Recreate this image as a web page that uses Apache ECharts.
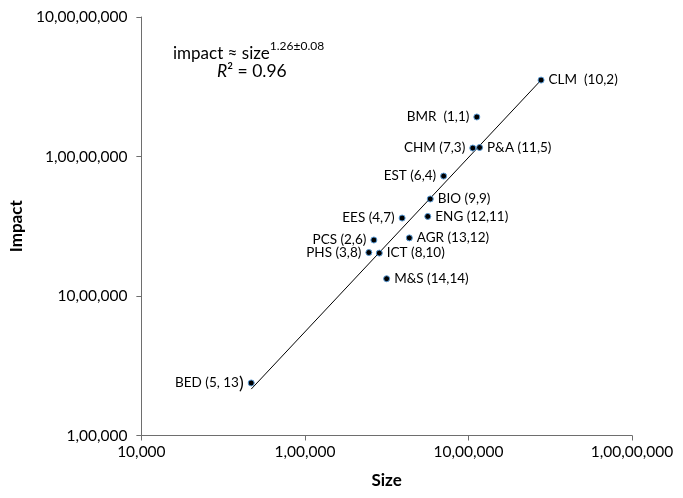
<!DOCTYPE html>
<html>
<head>
<meta charset="utf-8">
<script src="https://cdn.jsdelivr.net/npm/echarts@6/dist/echarts.min.js"></script>
<style>html,body{margin:0;padding:0;background:#fff}#c{width:683px;height:498px}</style>
</head>
<body>
<div id="c"></div>
<script>
const names  = ['BMR','CLM','CHM','P&A','EST','BIO','EES','ENG','PCS','AGR','PHS','ICT','M&S','BED'];
const ranks  = ['(1,1)','(10,2)','(7,3)','(11,5)','(6,4)','(9,9)','(4,7)','(12,11)','(2,6)','(13,12)','(3,8)','(8,10)','(14,14)','(5, 13)'];
const sizes  = [1125000, 2780000, 1063000, 1170000, 705000, 584000, 393000, 564000, 264000, 435000, 246000, 285000, 316000, 46950];
const impacts = [19200000, 35300000, 11500000, 11600000, 7240000, 4960000, 3620000, 3720000, 2520000, 2610000, 2050000, 2030000, 1330000, 238000];
const trendSize = [46950, 2780000];
const trendImpact = [215000, 35300000];
const xTickLabels = ['10,000','1,00,000','10,00,000','1,00,00,000'];
const yTickLabels = ['1,00,000','10,00,000','1,00,00,000','10,00,00,000'];

const leftLabelled = {BMR:1, CHM:1, EST:1, EES:1, PCS:1, PHS:1, BED:1};
const font = 'Lato, "Open Sans", sans-serif';
const lblSize = 13.5;

const pts = names.map((n, i) => {
  const left = !!leftLabelled[n];
  const gap = (n === 'CLM' || n === 'BMR') ? '  ' : ' ';
  let fmt = n + gap + ranks[i];
  if (n === 'BED') fmt = '{a|BED (5, 13}{b|)}';
  return {
    value: [sizes[i], impacts[i]],
    label: {
      show: true,
      position: left ? 'left' : 'right',
      distance: 4,
      formatter: fmt,
      color: '#000',
      fontSize: lblSize,
      fontFamily: font,
      rich: { a: {fontSize: lblSize, fontFamily: font, color: '#000'}, b: {fontSize: 18, fontFamily: font, color: '#000'} }
    }
  };
});

const chart = echarts.init(document.getElementById('c'), null, {renderer: 'canvas'});
chart.setOption({
  animation: false,
  backgroundColor: '#fff',
  grid: {left: 136, right: 51, top: 17, bottom: 62.5, containLabel: false},
  xAxis: {
    type: 'log', logBase: 10, min: 1e4, max: 1e7,
    name: 'Size', nameLocation: 'middle', nameGap: 37,
    nameTextStyle: {fontSize: 17, fontWeight: 'bold', color: '#000', fontFamily: font},
    axisLine: {lineStyle: {color: '#6e6e6e', width: 1}},
    axisTick: {show: true, inside: false, length: 5, lineStyle: {color: '#6e6e6e'}},
    minorTick: {show: false},
    splitLine: {show: false},
    axisLabel: {
      fontSize: 15.5, color: '#000', fontFamily: font, margin: 8,
      formatter: v => xTickLabels[Math.round(Math.log10(v)) - 4] || ''
    }
  },
  yAxis: {
    type: 'log', logBase: 10, min: 1e5, max: 1e8,
    name: 'Impact', nameLocation: 'middle', nameGap: 114, nameRotate: 90,
    nameTextStyle: {fontSize: 17, fontWeight: 'bold', color: '#000', fontFamily: font},
    axisLine: {show: true, lineStyle: {color: '#6e6e6e', width: 1}},
    axisTick: {show: true, inside: false, length: 5, lineStyle: {color: '#6e6e6e'}},
    minorTick: {show: false},
    splitLine: {show: false},
    axisLabel: {
      fontSize: 15.5, color: '#000', fontFamily: font, margin: 14,
      formatter: v => yTickLabels[Math.round(Math.log10(v)) - 5] || ''
    }
  },
  series: [
    {
      type: 'line',
      data: trendSize.map((s, i) => [s, trendImpact[i]]),
      symbol: 'none',
      lineStyle: {color: '#000', width: 1},
      z: 1,
      silent: true
    },
    {
      type: 'scatter',
      data: pts,
      symbol: 'circle',
      symbolSize: 6,
      itemStyle: {color: '#000', borderColor: '#5b9bd5', borderWidth: 1, opacity: 1},
      z: 3
    }
  ],
  graphic: [
    {
      type: 'text', left: 173, top: 40,
      style: {
        text: '{m|impact ≈ size}{s|1.26±0.08}',
        rich: {
          m: {fontSize: 17, fontFamily: font, fill: '#000', color: '#000', verticalAlign: 'bottom', lineHeight: 22},
          s: {fontSize: 12, fontFamily: font, fill: '#000', color: '#000', verticalAlign: 'top', lineHeight: 22, padding: [0,0,6,0]}
        }
      }
    },
    {
      type: 'text', left: 217, top: 62,
      style: {
        text: '{i|R}{n|² = 0.96}',
        rich: {
          i: {fontSize: 17.5, fontStyle: 'italic', fontFamily: font, fill: '#000', color: '#000'},
          n: {fontSize: 17.5, fontFamily: font, fill: '#000', color: '#000'}
        }
      }
    }
  ]
});
</script>
</body>
</html>
